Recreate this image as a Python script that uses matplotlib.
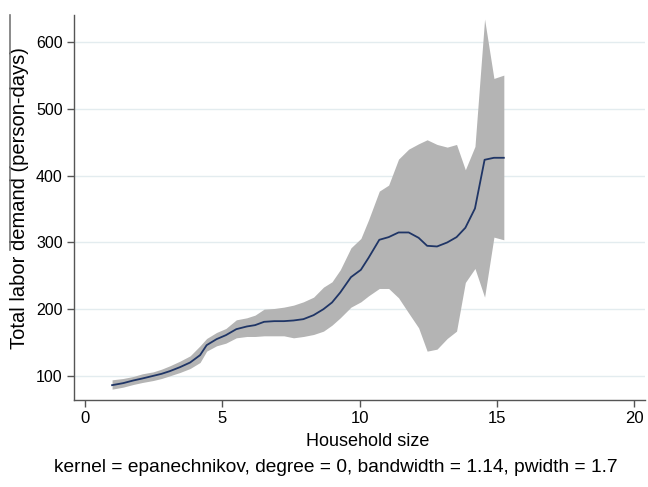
import matplotlib
matplotlib.use("Agg")
import matplotlib.pyplot as plt
from matplotlib.lines import Line2D

plt.rcParams["font.family"] = ["Liberation Sans", "DejaVu Sans"]

# lpoly smooth of labor demand on household size, with 95% CI
hh_size = [1.0, 1.4, 1.77, 2.1, 2.5, 2.8, 3.1, 3.47, 3.84, 4.2, 4.44, 4.8, 5.14,
           5.52, 5.9, 6.2, 6.53, 6.9, 7.25, 7.6, 7.96, 8.33, 8.69, 9.0, 9.3,
           9.69, 10.05, 10.33, 10.72, 11.06, 11.42, 11.79, 12.15, 12.46, 12.82,
           13.19, 13.53, 13.85, 14.2, 14.55, 14.89, 15.25]
demand = [86, 89, 93, 96, 100, 103, 107, 113, 120, 131, 146, 155, 161, 170, 174,
          176, 181, 182, 182, 183, 185, 191, 200, 210, 225, 248, 259, 277, 304,
          308, 315, 315, 307, 295, 294, 300, 308, 322, 351, 424, 427, 427]
ci_hi = [94, 96, 99, 103, 106, 110, 115, 122, 130, 145, 156, 165, 171, 184, 187,
         191, 200, 201, 203, 206, 211, 218, 233, 241, 259, 292, 306, 334, 377,
         386, 425, 440, 448, 454, 447, 443, 447, 409, 444, 635, 546, 551]
ci_lo = [80, 83, 87, 90, 93, 96, 100, 105, 111, 120, 137, 145, 149, 157, 159,
         159, 160, 160, 160, 157, 159, 162, 167, 176, 187, 203, 211, 220, 231,
         231, 217, 194, 172, 137, 140, 156, 167, 240, 261, 218, 308, 304]

x_ticks = [0, 5, 10, 15, 20]
y_ticks = [100, 200, 300, 400, 500, 600]

fig = plt.figure(figsize=(6.48, 4.87), dpi=100)
ax = fig.add_axes([0.114, 0.179, 0.882, 0.79])

ax.fill_between(hh_size, ci_lo, ci_hi, color="#b4b4b4", linewidth=0, zorder=2)
ax.plot(hh_size, demand, color="#1f3566", linewidth=1.3, zorder=3)

ax.set_xlim(-0.39, 20.4)
ax.set_ylim(64, 641)
ax.set_xticks(x_ticks)
ax.set_yticks(y_ticks)
ax.grid(axis="y", color="#e3ecef", linewidth=1.0, zorder=1)
ax.set_axisbelow(True)

for side in ["top", "right"]:
    ax.spines[side].set_visible(False)
for side in ["left", "bottom"]:
    ax.spines[side].set_color("#555555")
    ax.spines[side].set_linewidth(1.0)

ax.tick_params(direction="out", length=5, width=1, color="#555555",
               labelcolor="black", pad=3)
ax.tick_params(axis="x", labelsize=12)
ax.tick_params(axis="y", labelsize=11.5)

ax.set_xlabel("Household size", fontsize=13)
ax.xaxis.set_label_coords(0.514, -0.085)
ax.set_ylabel("Total labor demand (person-days)", fontsize=14.5)
ax.yaxis.set_label_coords(-0.078, 0.525)

fig.text(0.519, 0.041, "kernel = epanechnikov, degree = 0, bandwidth = 1.14, pwidth = 1.7",
         ha="center", va="center", fontsize=13.8)

# stray rule at the left edge of the original image
fig.add_artist(Line2D([10 / 648, 10 / 648], [1 - 15 / 487, 1 - 250 / 487],
                      transform=fig.transFigure, color="#777777", linewidth=1.2))

fig.savefig("out.png", dpi=100)
